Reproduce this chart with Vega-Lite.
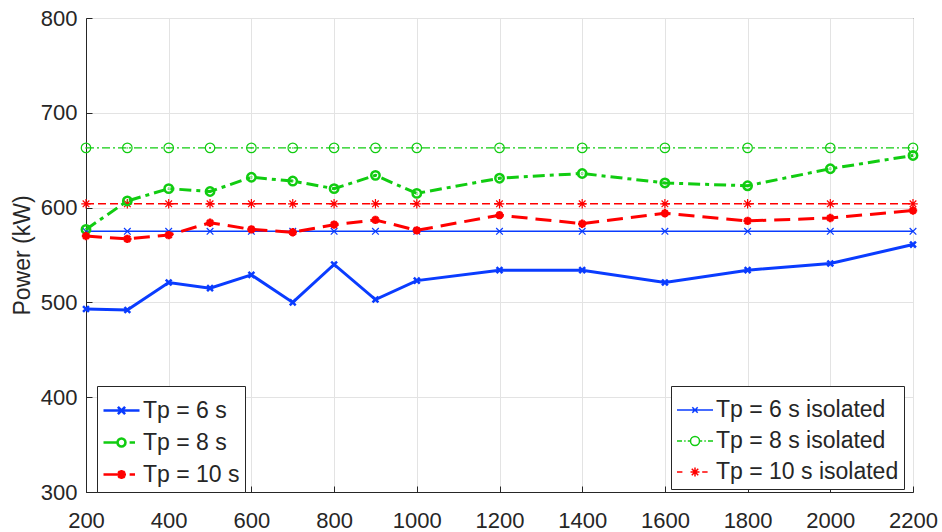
{
  "$schema": "https://vega.github.io/schema/vega-lite/v6.json",
  "width": 827,
  "height": 474,
  "autosize": "none",
  "padding": {"left": 86, "top": 18, "right": 29, "bottom": 40},
  "background": "white",
  "config": {
    "view": {"stroke": "#262626", "strokeWidth": 1},
    "axis": {
      "domainColor": "#262626",
      "tickColor": "#262626",
      "gridColor": "#e3e3e3",
      "labelFont": "Liberation Sans",
      "labelFontSize": 22,
      "labelColor": "#262626",
      "titleFont": "Liberation Sans",
      "titleFontSize": 23,
      "titleFontWeight": "normal",
      "titleColor": "#262626",
      "tickSize": -6
    },
    "legend": {
      "labelFont": "Liberation Sans",
      "labelFontSize": 23,
      "labelColor": "#262626",
      "fillColor": "white",
      "strokeColor": "#262626",
      "padding": 5,
      "cornerRadius": 0,
      "symbolSize": 1296,
      "labelOffset": 2,
      "rowPadding": -16,
      "labelLimit": 400
    }
  },
  "datasets": {
    "main": [
      {"series": "Tp = 6 s", "x": 200, "p": 493},
      {"series": "Tp = 6 s", "x": 300, "p": 492},
      {"series": "Tp = 6 s", "x": 400, "p": 521},
      {"series": "Tp = 6 s", "x": 500, "p": 515},
      {"series": "Tp = 6 s", "x": 600, "p": 529},
      {"series": "Tp = 6 s", "x": 700, "p": 500},
      {"series": "Tp = 6 s", "x": 800, "p": 540},
      {"series": "Tp = 6 s", "x": 900, "p": 503},
      {"series": "Tp = 6 s", "x": 1000, "p": 523},
      {"series": "Tp = 6 s", "x": 1200, "p": 534},
      {"series": "Tp = 6 s", "x": 1400, "p": 534},
      {"series": "Tp = 6 s", "x": 1600, "p": 521},
      {"series": "Tp = 6 s", "x": 1800, "p": 534},
      {"series": "Tp = 6 s", "x": 2000, "p": 541},
      {"series": "Tp = 6 s", "x": 2200, "p": 561},
      {"series": "Tp = 8 s", "x": 200, "p": 577},
      {"series": "Tp = 8 s", "x": 300, "p": 607},
      {"series": "Tp = 8 s", "x": 400, "p": 620},
      {"series": "Tp = 8 s", "x": 500, "p": 617},
      {"series": "Tp = 8 s", "x": 600, "p": 632},
      {"series": "Tp = 8 s", "x": 700, "p": 628},
      {"series": "Tp = 8 s", "x": 800, "p": 620},
      {"series": "Tp = 8 s", "x": 900, "p": 634},
      {"series": "Tp = 8 s", "x": 1000, "p": 615},
      {"series": "Tp = 8 s", "x": 1200, "p": 631},
      {"series": "Tp = 8 s", "x": 1400, "p": 636},
      {"series": "Tp = 8 s", "x": 1600, "p": 626},
      {"series": "Tp = 8 s", "x": 1800, "p": 623},
      {"series": "Tp = 8 s", "x": 2000, "p": 641},
      {"series": "Tp = 8 s", "x": 2200, "p": 655},
      {"series": "Tp = 10 s", "x": 200, "p": 570},
      {"series": "Tp = 10 s", "x": 300, "p": 567},
      {"series": "Tp = 10 s", "x": 400, "p": 571},
      {"series": "Tp = 10 s", "x": 500, "p": 584},
      {"series": "Tp = 10 s", "x": 600, "p": 577},
      {"series": "Tp = 10 s", "x": 700, "p": 574},
      {"series": "Tp = 10 s", "x": 800, "p": 582},
      {"series": "Tp = 10 s", "x": 900, "p": 587},
      {"series": "Tp = 10 s", "x": 1000, "p": 576},
      {"series": "Tp = 10 s", "x": 1200, "p": 592},
      {"series": "Tp = 10 s", "x": 1400, "p": 583},
      {"series": "Tp = 10 s", "x": 1600, "p": 594},
      {"series": "Tp = 10 s", "x": 1800, "p": 586},
      {"series": "Tp = 10 s", "x": 2000, "p": 589},
      {"series": "Tp = 10 s", "x": 2200, "p": 597}
    ],
    "iso": [
      {"series": "Tp = 6 s isolated", "x": 200, "p": 575},
      {"series": "Tp = 6 s isolated", "x": 300, "p": 575},
      {"series": "Tp = 6 s isolated", "x": 400, "p": 575},
      {"series": "Tp = 6 s isolated", "x": 500, "p": 575},
      {"series": "Tp = 6 s isolated", "x": 600, "p": 575},
      {"series": "Tp = 6 s isolated", "x": 700, "p": 575},
      {"series": "Tp = 6 s isolated", "x": 800, "p": 575},
      {"series": "Tp = 6 s isolated", "x": 900, "p": 575},
      {"series": "Tp = 6 s isolated", "x": 1000, "p": 575},
      {"series": "Tp = 6 s isolated", "x": 1200, "p": 575},
      {"series": "Tp = 6 s isolated", "x": 1400, "p": 575},
      {"series": "Tp = 6 s isolated", "x": 1600, "p": 575},
      {"series": "Tp = 6 s isolated", "x": 1800, "p": 575},
      {"series": "Tp = 6 s isolated", "x": 2000, "p": 575},
      {"series": "Tp = 6 s isolated", "x": 2200, "p": 575},
      {"series": "Tp = 8 s isolated", "x": 200, "p": 663},
      {"series": "Tp = 8 s isolated", "x": 300, "p": 663},
      {"series": "Tp = 8 s isolated", "x": 400, "p": 663},
      {"series": "Tp = 8 s isolated", "x": 500, "p": 663},
      {"series": "Tp = 8 s isolated", "x": 600, "p": 663},
      {"series": "Tp = 8 s isolated", "x": 700, "p": 663},
      {"series": "Tp = 8 s isolated", "x": 800, "p": 663},
      {"series": "Tp = 8 s isolated", "x": 900, "p": 663},
      {"series": "Tp = 8 s isolated", "x": 1000, "p": 663},
      {"series": "Tp = 8 s isolated", "x": 1200, "p": 663},
      {"series": "Tp = 8 s isolated", "x": 1400, "p": 663},
      {"series": "Tp = 8 s isolated", "x": 1600, "p": 663},
      {"series": "Tp = 8 s isolated", "x": 1800, "p": 663},
      {"series": "Tp = 8 s isolated", "x": 2000, "p": 663},
      {"series": "Tp = 8 s isolated", "x": 2200, "p": 663},
      {"series": "Tp = 10 s isolated", "x": 200, "p": 604},
      {"series": "Tp = 10 s isolated", "x": 300, "p": 604},
      {"series": "Tp = 10 s isolated", "x": 400, "p": 604},
      {"series": "Tp = 10 s isolated", "x": 500, "p": 604},
      {"series": "Tp = 10 s isolated", "x": 600, "p": 604},
      {"series": "Tp = 10 s isolated", "x": 700, "p": 604},
      {"series": "Tp = 10 s isolated", "x": 800, "p": 604},
      {"series": "Tp = 10 s isolated", "x": 900, "p": 604},
      {"series": "Tp = 10 s isolated", "x": 1000, "p": 604},
      {"series": "Tp = 10 s isolated", "x": 1200, "p": 604},
      {"series": "Tp = 10 s isolated", "x": 1400, "p": 604},
      {"series": "Tp = 10 s isolated", "x": 1600, "p": 604},
      {"series": "Tp = 10 s isolated", "x": 1800, "p": 604},
      {"series": "Tp = 10 s isolated", "x": 2000, "p": 604},
      {"series": "Tp = 10 s isolated", "x": 2200, "p": 604}
    ]
  },
  "encoding": {
    "x": {
      "field": "x",
      "type": "quantitative",
      "scale": {"domain": [200, 2200], "nice": false, "zero": false},
      "axis": {
        "title": null,
        "values": [200, 400, 600, 800, 1000, 1200, 1400, 1600, 1800, 2000, 2200],
        "format": "d",
        "labelPadding": 24,
        "labelFlush": false,
        "grid": true
      }
    },
    "y": {
      "field": "p",
      "type": "quantitative",
      "scale": {"domain": [300, 800], "nice": false, "zero": false},
      "axis": {
        "title": "Power (kW)",
        "values": [300, 400, 500, 600, 700, 800],
        "format": "d",
        "labelPadding": 15,
        "titlePadding": 6,
        "grid": true
      }
    }
  },
  "layer": [
    {
      "data": {"name": "iso"},
      "encoding": {
        "color": {
          "field": "series",
          "type": "nominal",
          "scale": {
            "domain": ["Tp = 6 s isolated", "Tp = 8 s isolated", "Tp = 10 s isolated"],
            "range": ["#0a3cff", "#11cc11", "#ff0000"]
          },
          "legend": {
            "title": null,
            "orient": "none",
            "legendX": 585,
            "legendY": 368,
            "symbolStrokeWidth": 1.5
          }
        }
      },
      "layer": [
        {
          "mark": {"type": "point", "filled": false, "size": 1, "strokeWidth": 1.5, "opacity": 1},
          "encoding": {
            "shape": {
              "field": "series",
              "type": "nominal",
              "scale": {
                "domain": ["Tp = 6 s isolated", "Tp = 8 s isolated", "Tp = 10 s isolated"],
                "range": [
                  "M-1,0L1,0M-0.15,-0.15L0.15,0.15M-0.15,0.15L0.15,-0.15",
                  "M-1,0L-0.72,0M-0.6,0L-0.52,0M-0.4,0L-0.25,0M0.25,0L0.4,0M0.52,0L0.6,0M0.72,0L1,0M-0.25,0A0.25,0.25 0 1,0 0.25,0A0.25,0.25 0 1,0 -0.25,0",
                  "M-1,0L-0.7,0M0.4,0L0.7,0M-0.25,0L0.25,0M0,-0.25L0,0.25M-0.18,-0.18L0.18,0.18M-0.18,0.18L0.18,-0.18"
                ]
              },
              "legend": null
            }
          }
        },
        {
          "transform": [{"filter": "datum.series === 'Tp = 6 s isolated'"}],
          "mark": {"type": "line", "strokeWidth": 1.4}
        },
        {
          "transform": [{"filter": "datum.series === 'Tp = 8 s isolated'"}],
          "mark": {"type": "line", "strokeWidth": 1.4, "strokeDash": [8, 3, 2, 3]}
        },
        {
          "transform": [{"filter": "datum.series === 'Tp = 10 s isolated'"}],
          "mark": {"type": "line", "strokeWidth": 1.4, "strokeDash": [8, 4]}
        },
        {
          "transform": [{"filter": "datum.series === 'Tp = 6 s isolated'"}],
          "mark": {"type": "point", "filled": false, "size": 90, "strokeWidth": 1.2, "opacity": 1, "shape": "M-0.7,-0.7L0.7,0.7M-0.7,0.7L0.7,-0.7"}
        },
        {
          "transform": [{"filter": "datum.series === 'Tp = 8 s isolated'"}],
          "mark": {"type": "point", "filled": false, "size": 90, "strokeWidth": 1.2, "opacity": 1, "shape": "circle"}
        },
        {
          "transform": [{"filter": "datum.series === 'Tp = 10 s isolated'"}],
          "mark": {"type": "point", "filled": false, "size": 90, "strokeWidth": 1.2, "opacity": 1, "shape": "M-1,0L1,0M0,-1L0,1M-0.7,-0.7L0.7,0.7M-0.7,0.7L0.7,-0.7"}
        }
      ]
    },
    {
      "data": {"name": "main"},
      "encoding": {
        "color": {
          "field": "series",
          "type": "nominal",
          "scale": {
            "domain": ["Tp = 6 s", "Tp = 8 s", "Tp = 10 s"],
            "range": ["#0a3cff", "#11cc11", "#ff0000"]
          },
          "legend": {
            "title": null,
            "orient": "none",
            "legendX": 11,
            "legendY": 368,
            "symbolStrokeWidth": 2.6
          }
        }
      },
      "layer": [
        {
          "mark": {"type": "point", "filled": false, "size": 1, "strokeWidth": 2.6, "opacity": 1},
          "encoding": {
            "shape": {
              "field": "series",
              "type": "nominal",
              "scale": {
                "domain": ["Tp = 6 s", "Tp = 8 s", "Tp = 10 s"],
                "range": [
                  "M-1,0L1,0M-0.2,-0.2L0.2,0.2M-0.2,0.2L0.2,-0.2",
                  "M-1,0L-0.25,0M0.45,0L0.75,0M-0.22,0A0.22,0.22 0 1,0 0.22,0A0.22,0.22 0 1,0 -0.22,0",
                  "M-1,0L-0.2,0M0.45,0L0.75,0M-0.25,0L0.25,0M0,-0.25L0,0.25M-0.18,-0.18L0.18,0.18M-0.18,0.18L0.18,-0.18"
                ]
              },
              "legend": null
            }
          }
        },
        {
          "transform": [{"filter": "datum.series === 'Tp = 6 s'"}],
          "mark": {"type": "line", "strokeWidth": 3}
        },
        {
          "transform": [{"filter": "datum.series === 'Tp = 8 s'"}],
          "mark": {"type": "line", "strokeWidth": 3, "strokeDash": [12, 5, 4, 5]}
        },
        {
          "transform": [{"filter": "datum.series === 'Tp = 10 s'"}],
          "mark": {"type": "line", "strokeWidth": 3, "strokeDash": [16, 8]}
        },
        {
          "transform": [{"filter": "datum.series === 'Tp = 6 s'"}],
          "mark": {"type": "point", "filled": false, "size": 70, "strokeWidth": 2.5, "opacity": 1, "shape": "M-0.7,-0.7L0.7,0.7M-0.7,0.7L0.7,-0.7"}
        },
        {
          "transform": [{"filter": "datum.series === 'Tp = 8 s'"}],
          "mark": {"type": "point", "filled": false, "size": 70, "strokeWidth": 2.5, "opacity": 1, "shape": "circle"}
        },
        {
          "transform": [{"filter": "datum.series === 'Tp = 10 s'"}],
          "mark": {"type": "point", "filled": false, "size": 70, "strokeWidth": 2.5, "opacity": 1, "shape": "M-1,0L1,0M0,-1L0,1M-0.7,-0.7L0.7,0.7M-0.7,0.7L0.7,-0.7"}
        }
      ]
    }
  ],
  "resolve": {"scale": {"color": "independent", "shape": "independent"}}
}
